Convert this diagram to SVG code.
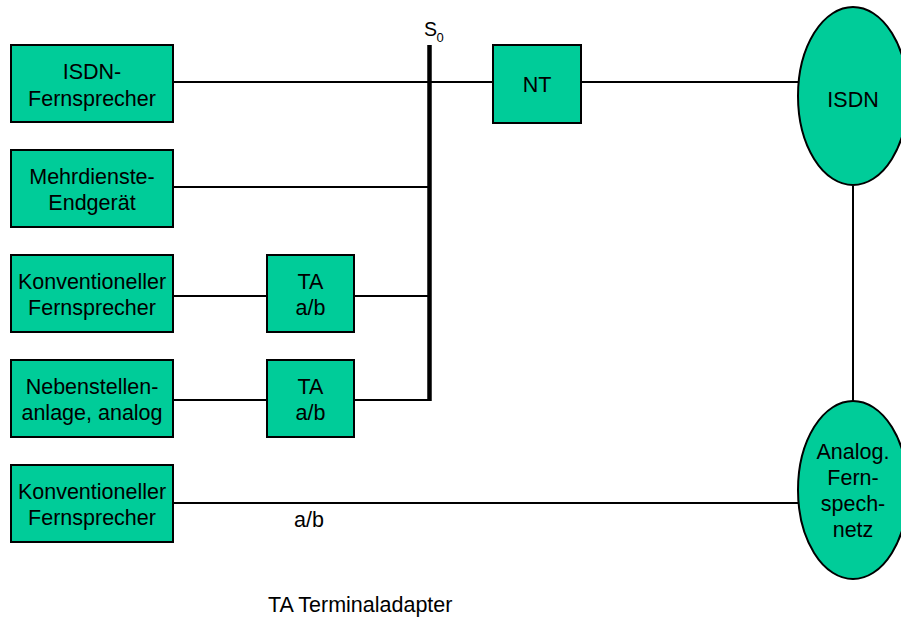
<svg xmlns="http://www.w3.org/2000/svg" width="901" height="617" viewBox="0 0 901 617">
<style>
.n{fill:#00CC99;stroke:#000;stroke-width:2}
.t{font-family:"Liberation Sans",Arial,sans-serif;font-size:21.5px;fill:#000;text-anchor:middle}
.l{font-family:"Liberation Sans",Arial,sans-serif;fill:#000}
.c{stroke:#000;stroke-width:2;fill:none}
</style>
<rect width="901" height="617" fill="#fff"/>
<g id="connectors">
<line class="c" x1="173" y1="82" x2="493" y2="82"/>
<line class="c" x1="581" y1="82" x2="799" y2="82"/>
<line class="c" x1="173" y1="187" x2="429" y2="187"/>
<line class="c" x1="173" y1="296" x2="267" y2="296"/>
<line class="c" x1="354" y1="296" x2="429" y2="296"/>
<line class="c" x1="173" y1="400" x2="267" y2="400"/>
<line class="c" x1="354" y1="400" x2="429" y2="400"/>
<line class="c" x1="173" y1="503" x2="798" y2="503"/>
<line class="c" x1="853" y1="186" x2="853" y2="401"/>
<line x1="429.5" y1="45" x2="429.5" y2="401" stroke="#000" stroke-width="4.5"/>
</g>
<g id="s0-label">
<text class="l" x="424" y="36" font-size="19.5">S</text>
<text class="l" x="436.5" y="42" font-size="13">0</text>
</g>
<g id="isdn-fernsprecher">
<rect class="n" x="11" y="45" width="162" height="77"/>
<text class="t" x="92" y="79">ISDN-</text>
<text class="t" x="92" y="106">Fernsprecher</text>
</g>
<g id="mehrdienste">
<rect class="n" x="11" y="150" width="162" height="77"/>
<text class="t" x="92" y="184">Mehrdienste-</text>
<text class="t" x="92" y="210">Endgerät</text>
</g>
<g id="konv1">
<rect class="n" x="11" y="255" width="162" height="77"/>
<text class="t" x="92" y="289">Konventioneller</text>
<text class="t" x="92" y="315">Fernsprecher</text>
</g>
<g id="ta1">
<rect class="n" x="267" y="255" width="87" height="77"/>
<text class="t" x="310.5" y="289">TA</text>
<text class="t" x="310.5" y="315">a/b</text>
</g>
<g id="nebenstellen">
<rect class="n" x="11" y="360" width="162" height="77"/>
<text class="t" x="92" y="394">Nebenstellen-</text>
<text class="t" x="92" y="420">anlage, analog</text>
</g>
<g id="ta2">
<rect class="n" x="267" y="360" width="87" height="77"/>
<text class="t" x="310.5" y="394">TA</text>
<text class="t" x="310.5" y="420">a/b</text>
</g>
<g id="konv2">
<rect class="n" x="11" y="465" width="162" height="77"/>
<text class="t" x="92" y="499">Konventioneller</text>
<text class="t" x="92" y="525">Fernsprecher</text>
</g>
<g id="nt">
<rect class="n" x="493" y="45" width="88" height="78"/>
<text class="t" x="537" y="92">NT</text>
</g>
<g id="isdn">
<ellipse class="n" cx="853" cy="96" rx="55" ry="89"/>
<text class="t" x="853" y="107">ISDN</text>
</g>
<g id="analog">
<ellipse class="n" cx="853" cy="490" rx="55" ry="89"/>
<text class="t" x="853" y="459">Analog.</text>
<text class="t" x="853" y="485">Fern-</text>
<text class="t" x="853" y="511">spech-</text>
<text class="t" x="853" y="537">netz</text>
</g>
<g id="labels">
<text class="t" x="309" y="527">a/b</text>
<text class="l" x="268" y="612" font-size="21.5">TA Terminaladapter</text>
</g>
</svg>
